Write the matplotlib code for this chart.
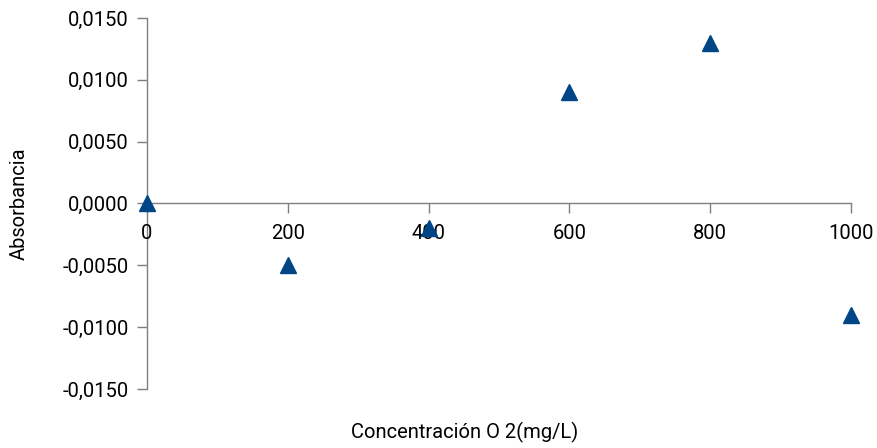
import matplotlib.pyplot as plt
from matplotlib.ticker import FuncFormatter, FixedLocator

# O2 concentration vs absorbance readings
concentracion = [0, 200, 400, 600, 800, 1000]
absorbancia = [0.0000, -0.0050, -0.0020, 0.0090, 0.0130, -0.0090]

x_ticks = [0, 200, 400, 600, 800, 1000]
y_ticks = [-0.015, -0.010, -0.005, 0.0, 0.005, 0.010, 0.015]

plt.rcParams["font.family"] = ["Roboto", "DejaVu Sans"]

fig = plt.figure(figsize=(8.78, 4.48), dpi=100)
ax = fig.add_axes([147 / 878, 1 - 389 / 448, (851 - 147) / 878, (389 - 18) / 448])

axis_color = "#7f7f7f"

ax.plot(concentracion, absorbancia, linestyle="none", marker="^",
        markersize=11, color="#004586", clip_on=False, zorder=2)

ax.set_xlim(0, 1000)
ax.set_ylim(-0.015, 0.015)

ax.spines["top"].set_visible(False)
ax.spines["right"].set_visible(False)
ax.spines["bottom"].set_position(("data", 0))
for s in ("left", "bottom"):
    ax.spines[s].set_color(axis_color)
    ax.spines[s].set_linewidth(1.0)
    ax.spines[s].set_zorder(1.5)

ax.xaxis.set_major_locator(FixedLocator(x_ticks))
ax.yaxis.set_major_locator(FixedLocator(y_ticks))
ax.yaxis.set_major_formatter(
    FuncFormatter(lambda v, p: f"{v:.4f}".replace(".", ",").replace("-0,0000", "0,0000"))
)

ax.tick_params(axis="both", which="major", color=axis_color, length=7,
               width=1.0, labelsize=14.5, labelcolor="#000000")
ax.tick_params(axis="x", direction="out", pad=8)
ax.tick_params(axis="y", direction="out", pad=6)

ax.set_xlabel("Concentración O 2(mg/L)", fontsize=14.5)
ax.set_ylabel("Absorbancia", fontsize=14.5)
ax.xaxis.set_label_coords((465 - 147) / (851 - 147), -(432 - 389) / (389 - 18))
ax.yaxis.set_label_coords(-(147 - 19) / (851 - 147), 0.5)
ax.xaxis.label.set_va("center")
ax.yaxis.label.set_va("center")

fig.savefig("out.png", dpi=100)
